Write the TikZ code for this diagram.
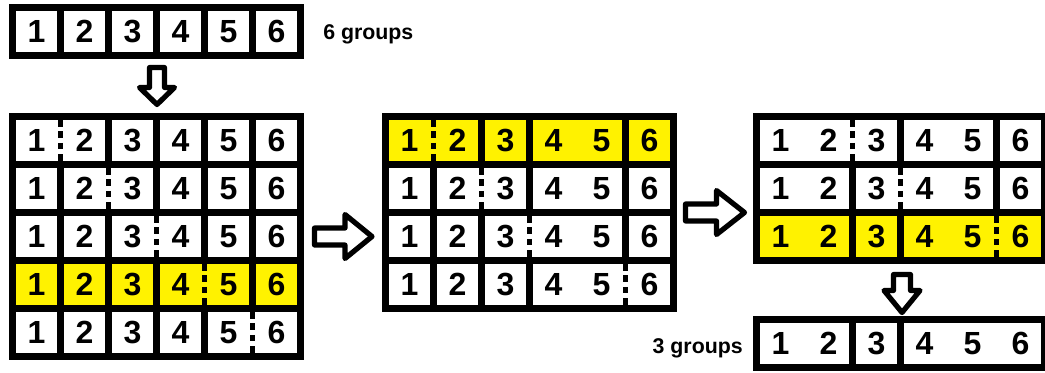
\documentclass[tikz,border=0pt]{standalone}
\usepackage{fontspec}
\setmainfont{Liberation Sans}
\usepackage{tikz}

\tikzset{
  chiffre/.style={font=\fontsize{24}{24}\selectfont\bfseries, inner sep=0pt},
  legende/.style={font=\fontsize{16}{16}\selectfont\bfseries, inner sep=0pt},
  coupure/.style={line width=3.75pt, dash pattern=on 4.9pt off 3.7pt},
  contourfleche/.style={line width=3.9pt, line join=round, fill=white},
}

% #1 x du cadre, #2 haut des cases, #3 couleur, #4 liaisons pleines, #5 liaison en pointilles, #6 nom
\newcommand{\rangee}[6]{%
  \foreach \col in {0,...,5}
    \fill[#3] (#1+7+48*\col,#2) rectangle (#1+48+48*\col,#2+41);
  \def\ouverts{#4}%
  \ifx\ouverts\empty\else
    \foreach \gap in {#4}
      \fill[#3] (#1+48*\gap-1,#2) rectangle (#1+48*\gap+8,#2+41);
  \fi
  \ifnum#5>0
    \fill[#3] (#1+48*#5-1,#2) rectangle (#1+48*#5+8,#2+41);
    \draw[coupure] (#1+48*#5+3.5,#2) -- (#1+48*#5+3.5,#2+41);
  \fi
  \foreach \num in {1,...,6}
    \node[chiffre] (#6-\num) at (#1+48*\num-20.5,#2+20.5) {\num};
}

% #1 x, #2 y, #3 angle, #4 longueur, #5 longueur de la tete, #6 demi-corps, #7 demi-tete
\newcommand{\flechecreuse}[7]{%
  \draw[contourfleche, shift={(#1,#2)}, rotate=#3]
    (0,-#6) -- (#4-#5,-#6) -- (#4-#5,-#7) -- (#4,0) -- (#4-#5,#7) -- (#4-#5,#6) -- (0,#6) -- cycle;
}

\begin{document}
\begin{tikzpicture}[x=0.75pt, y=-0.75pt]
  \useasboundingbox (0,0) rectangle (1045,372);

  \fill (9,4) rectangle ++(295,55);
  \fill (9,113) rectangle ++(295,247);
  \fill (382,113) rectangle ++(295,199);
  \fill (753,113) rectangle ++(295,151);
  \fill (753,316) rectangle ++(295,55);

  \rangee{9}{11}{white}{}{0}{depart}
  \node[legende, anchor=base west] (six) at (323,39) {6 groups};

  \rangee{9}{120}{white}{}{1}{a1}
  \rangee{9}{168}{white}{}{2}{a2}
  \rangee{9}{216}{white}{}{3}{a3}
  \rangee{9}{264}{yellow}{}{4}{a4}
  \rangee{9}{312}{white}{}{5}{a5}

  \rangee{382}{120}{yellow}{4}{1}{b1}
  \rangee{382}{168}{white}{4}{2}{b2}
  \rangee{382}{216}{white}{4}{3}{b3}
  \rangee{382}{264}{white}{4}{5}{b4}

  \rangee{753}{120}{white}{1,4}{2}{c1}
  \rangee{753}{168}{white}{1,4}{3}{c2}
  \rangee{753}{216}{yellow}{1,4}{5}{c3}

  \rangee{753}{323}{white}{1,4,5}{0}{fin}
  \node[legende, anchor=base east] (trois) at (743,353) {3 groups};

  \flechecreuse{157}{67.5}{-90}{37}{17}{7.5}{17.5}
  \flechecreuse{314.5}{236.5}{0}{57.5}{27}{8.5}{22}
  \flechecreuse{685.5}{212.5}{0}{59}{28}{8.5}{22}
  \flechecreuse{902}{274.5}{-90}{38}{22}{8.5}{18}
\end{tikzpicture}
\end{document}
